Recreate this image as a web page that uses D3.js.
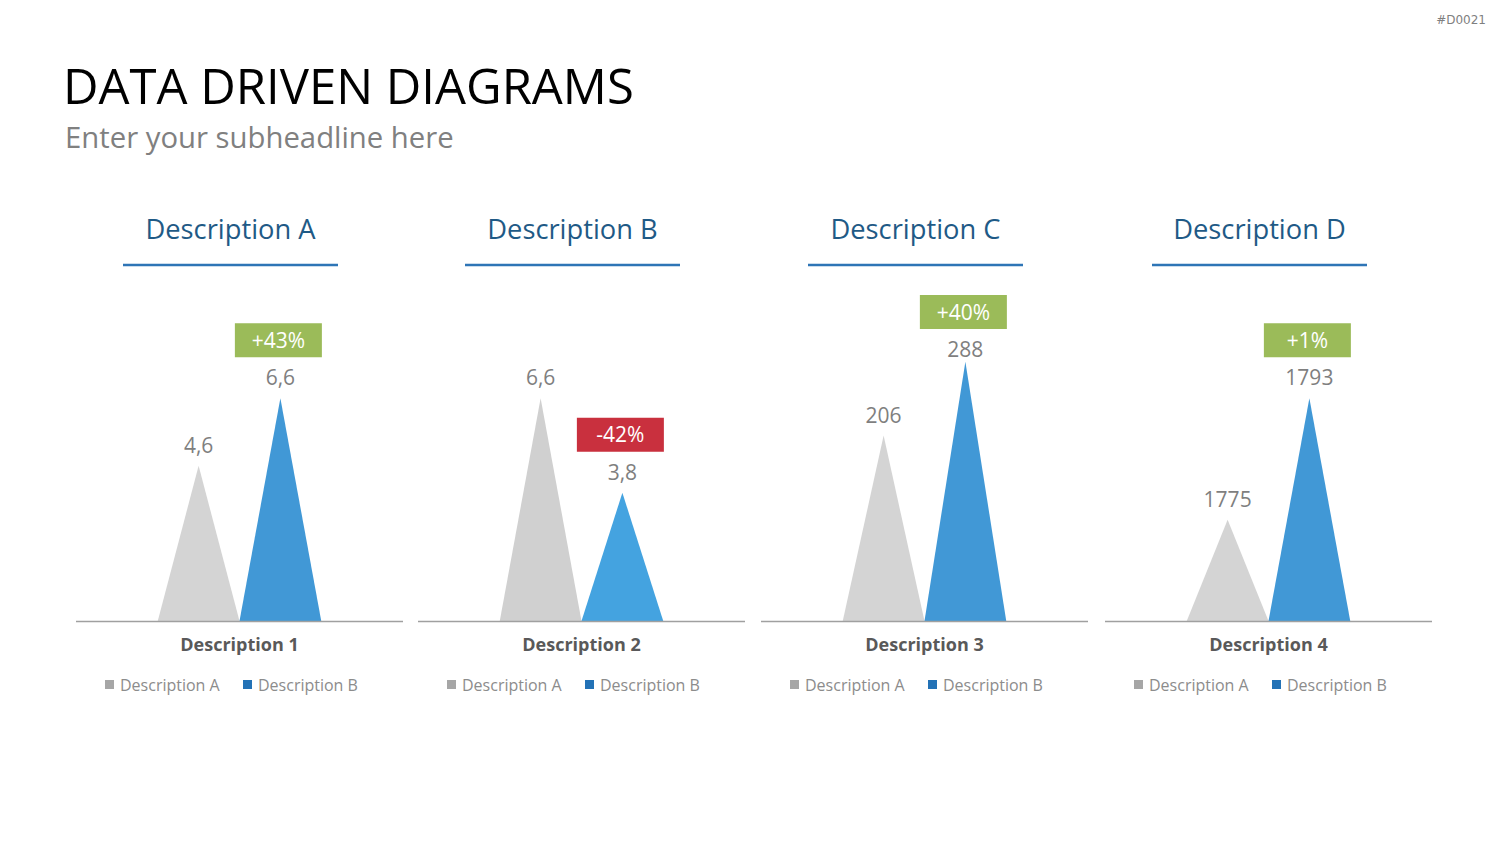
<!DOCTYPE html>
<html>
<head>
<meta charset="utf-8">
<script src="https://cdn.jsdelivr.net/npm/d3@7"></script>
<style>
  html, body { margin: 0; padding: 0; background: #fff; }
  svg { display: block; font-family: "Open Sans", "Noto Sans", sans-serif; }
</style>
</head>
<body>
<svg id="chart" width="1500" height="844"></svg>
<script>
// ---------- data ----------
const panelTitles = ["Description A", "Description B", "Description C", "Description D"];
const categories = ["Description 1", "Description 2", "Description 3", "Description 4"];
const seriesNames = ["Description A", "Description B"];
const valuesA = [4.6, 6.6, 206, 1775];
const valuesB = [6.6, 3.8, 288, 1793];
const labelsA = ["4,6", "6,6", "206", "1775"];
const labelsB = ["6,6", "3,8", "288", "1793"];
const changes = ["+43%", "-42%", "+40%", "+1%"];
const axisMin = [0, 0, 0, 1760];
const axisMax = [8, 8, 300, 1800];

// ---------- styles / layout ----------
const W = 1500, H = 844;
const panelLeft = [76, 418, 761, 1105];
const panelWidth = 327;
const baseY = 621, plotTop = 351, chartTop = 342;
const triColors = ["#D4D4D4", "#4198D6"];
const triColorsAlt = ["#D0D0D0", "#44A3E0"];
const legendColors = ["#A6A6A6", "#2372B6"];
const headerColor = "#1F5A86";
const underlineColor = "#2E75B6";
const green = "#9BBB59", red = "#C9303E";

const svg = d3.select("#chart");

svg.append("text").attr("x", 1486).attr("y", 24).attr("text-anchor", "end")
  .attr("font-size", 12).attr("fill", "#7F7F7F").attr("font-family", "DejaVu Sans, sans-serif")
  .text("#D0021");

svg.append("text").attr("x", 63).attr("y", 104)
  .attr("font-size", 49).attr("fill", "#000").text("DATA DRIVEN DIAGRAMS");

svg.append("text").attr("x", 65).attr("y", 148)
  .attr("font-size", 29.3).attr("fill", "#808080").text("Enter your subheadline here");

panelTitles.forEach((title, i) => {
  const left = panelLeft[i];
  const cx = left + panelWidth / 2;
  const g = svg.append("g");

  // header
  const hx = cx - 9;
  g.append("text").attr("x", hx).attr("y", 239).attr("text-anchor", "middle")
    .attr("font-size", 27.3).attr("fill", headerColor).text(title);
  g.append("line").attr("x1", hx - 107.5).attr("x2", hx + 107.5)
    .attr("y1", 265).attr("y2", 265)
    .attr("stroke", underlineColor).attr("stroke-width", 2.5);

  // scales
  const x = d3.scaleBand().domain(seriesNames).range([left, left + panelWidth])
    .paddingInner(0).paddingOuter(1);
  const y = d3.scaleLinear().domain([axisMin[i], axisMax[i]]).range([baseY, plotTop]);

  const vals = [valuesA[i], valuesB[i]];
  const labs = [labelsA[i], labelsB[i]];
  const cols = i === 1 ? triColorsAlt : triColors;

  seriesNames.forEach((s, j) => {
    const x0 = x(s), x1 = x(s) + x.bandwidth(), xm = x(s) + x.bandwidth() / 2;
    const yv = y(vals[j]);
    g.append("path")
      .attr("d", `M${x0},${baseY} L${xm},${yv} L${x1},${baseY} Z`)
      .attr("fill", cols[j]);
    const ly = Math.max(yv - 13, chartTop + 15);
    g.append("text").attr("x", xm).attr("y", ly).attr("text-anchor", "middle")
      .attr("font-size", 21).attr("fill", "#7F7F7F").text(labs[j]);
    if (j === 1) {
      const bw = 87, bh = 34;
      const bx = xm - 2 - bw / 2;
      const by = ly - 28 - bh;
      const neg = changes[i].startsWith("-");
      g.append("rect").attr("x", bx).attr("y", by).attr("width", bw).attr("height", bh)
        .attr("fill", neg ? red : green);
      g.append("text").attr("x", bx + bw / 2).attr("y", by + bh / 2 + 7.5)
        .attr("text-anchor", "middle").attr("font-size", 21).attr("fill", "#fff")
        .text(changes[i]);
    }
  });

  // baseline
  g.append("line").attr("x1", left).attr("x2", left + panelWidth)
    .attr("y1", baseY + 0.5).attr("y2", baseY + 0.5)
    .attr("stroke", "#A0A0A0").attr("stroke-width", 1.5);

  // category label
  g.append("text").attr("x", cx).attr("y", 651).attr("text-anchor", "middle")
    .attr("font-size", 18).attr("font-weight", "bold").attr("fill", "#595959")
    .text(categories[i]);

  // legend
  const legOff = [29, 167];
  seriesNames.forEach((s, j) => {
    g.append("rect").attr("x", left + legOff[j]).attr("y", 680)
      .attr("width", 9).attr("height", 9).attr("fill", legendColors[j]);
    g.append("text").attr("x", left + legOff[j] + 15).attr("y", 690.5)
      .attr("font-size", 16).attr("fill", "#8C8C8C").text(s);
  });
});
</script>
</body>
</html>
